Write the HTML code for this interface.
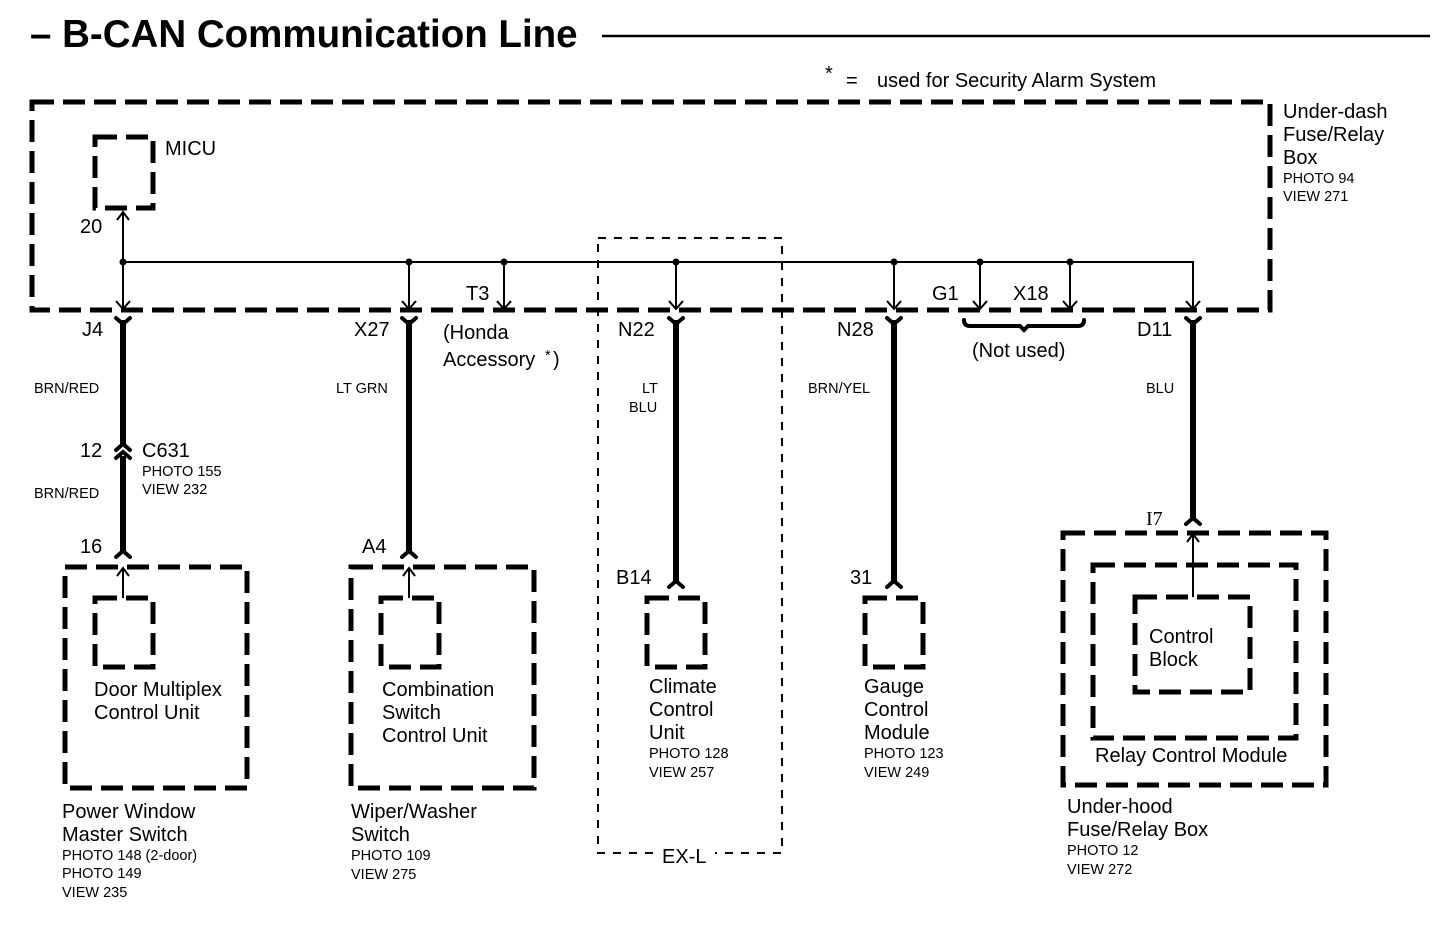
<!DOCTYPE html>
<html><head><meta charset="utf-8"><style>
body{margin:0;background:#fff}
svg{display:block}
text{font-family:"Liberation Sans",sans-serif;fill:#000}
.l{font-size:20px}
.s{font-size:14.5px}
</style></head><body>
<svg width="1440" height="934" viewBox="0 0 1440 934" xmlns="http://www.w3.org/2000/svg">
<text x="30" y="47" style="font-size:38.5px;font-weight:bold">– B-CAN Communication Line</text>
<line x1="602" y1="36" x2="1430" y2="36" stroke="#000" stroke-width="2.5"/>
<text x="825" y="80" class="l">*</text>
<text x="846" y="87" class="l">=</text>
<text x="877" y="87" class="l">used for Security Alarm System</text>

<g fill="none" stroke="#000" stroke-width="5" stroke-dasharray="22,9">
<rect x="32" y="102" width="1238" height="208"/>
<rect x="95" y="137" width="58" height="71"/>
<rect x="65" y="567" width="182" height="221"/>
<rect x="95" y="598" width="58" height="69"/>
<rect x="351" y="567" width="183" height="221"/>
<rect x="381" y="598" width="58" height="69"/>
<rect x="647" y="598" width="58" height="69"/>
<rect x="865" y="598" width="58" height="69"/>
<rect x="1063" y="533" width="263" height="252"/>
<rect x="1093" y="565" width="203" height="173"/>
<rect x="1135" y="597" width="115" height="95"/>
</g>
<rect x="598" y="238" width="184" height="615" fill="none" stroke="#000" stroke-width="2" stroke-dasharray="8,8"/>
<rect x="655" y="843" width="60" height="20" fill="#fff"/>

<g stroke="#000" stroke-width="2" fill="none">
<polyline points="123,262 1193,262 1193,308"/>
<line x1="123" y1="212" x2="123" y2="308"/>
<polyline points="117,220 123,212 129,220"/>
<line x1="409" y1="262" x2="409" y2="308"/><line x1="504" y1="262" x2="504" y2="308"/>
<line x1="676" y1="262" x2="676" y2="308"/><line x1="894" y1="262" x2="894" y2="308"/>
<line x1="980" y1="262" x2="980" y2="308"/><line x1="1070" y1="262" x2="1070" y2="308"/>
<g>
<polyline points="116,301 123,309 130,301"/><polyline points="402,301 409,309 416,301"/>
<polyline points="497,301 504,309 511,301"/><polyline points="669,301 676,309 683,301"/>
<polyline points="887,301 894,309 901,301"/><polyline points="973,301 980,309 987,301"/>
<polyline points="1063,301 1070,309 1077,301"/><polyline points="1186,301 1193,309 1200,301"/>
</g>
<line x1="123" y1="568" x2="123" y2="598"/><polyline points="117,576 123,568 129,576"/>
<line x1="409" y1="568" x2="409" y2="598"/><polyline points="403,576 409,568 415,576"/>
<line x1="1193" y1="534" x2="1193" y2="597"/><polyline points="1187,542 1193,534 1199,542"/>
</g>
<g fill="#000">
<circle cx="123" cy="262" r="3.5"/><circle cx="409" cy="262" r="3.5"/><circle cx="504" cy="262" r="3.5"/>
<circle cx="676" cy="262" r="3.5"/><circle cx="894" cy="262" r="3.5"/><circle cx="980" cy="262" r="3.5"/>
<circle cx="1070" cy="262" r="3.5"/>
</g>
<g stroke="#000" stroke-width="6" fill="none" stroke-linejoin="round">
<line x1="123" y1="320" x2="123" y2="444"/><line x1="123" y1="456" x2="123" y2="552"/>
<line x1="409" y1="320" x2="409" y2="552"/>
<line x1="676" y1="320" x2="676" y2="582"/>
<line x1="894" y1="320" x2="894" y2="582"/>
<line x1="1193" y1="320" x2="1193" y2="518"/>
</g>
<g stroke="#000" stroke-width="4" fill="none" stroke-linecap="round">
<polyline points="116,318 123,324 130,318"/><polyline points="402,318 409,324 416,318"/>
<polyline points="669,318 676,324 683,318"/><polyline points="887,318 894,324 901,318"/>
<polyline points="1186,318 1193,324 1200,318"/>
<polyline points="116,450 123,444 130,450"/><polyline points="116,458 123,452 130,458"/>
<polyline points="116,557 123,551 130,557"/><polyline points="402,557 409,551 416,557"/>
<polyline points="669,587 676,581 683,587"/><polyline points="887,587 894,581 901,587"/>
<polyline points="1186,524 1193,518 1200,524"/>
<path d="M964,320 Q964,326 970,326 L1020,326 L1024,330 L1028,326 L1078,326 Q1084,326 1084,320"/>
</g>

<text x="165" y="155" class="l">MICU</text>
<text x="1283" y="118" class="l">Under-dash</text>
<text x="1283" y="141" class="l">Fuse/Relay</text>
<text x="1283" y="164" class="l">Box</text>
<text x="1283" y="183" class="s">PHOTO 94</text>
<text x="1283" y="201" class="s">VIEW 271</text>
<text x="80" y="233" class="l">20</text>
<text x="82" y="336" class="l">J4</text>
<text x="354" y="336" class="l">X27</text>
<text x="466" y="300" class="l">T3</text>
<text x="443" y="339" class="l">(Honda</text>
<text x="443" y="366" class="l">Accessory</text><text x="545" y="360" class="s">*</text><text x="553" y="366" class="l">)</text>
<text x="618" y="336" class="l">N22</text>
<text x="837" y="336" class="l">N28</text>
<text x="932" y="300" class="l">G1</text>
<text x="1013" y="300" class="l">X18</text>
<text x="972" y="357" class="l">(Not used)</text>
<text x="1137" y="336" class="l">D11</text>
<text x="34" y="393" class="s">BRN/RED</text>
<text x="336" y="393" class="s">LT GRN</text>
<text x="642" y="393" class="s">LT</text>
<text x="629" y="412" class="s">BLU</text>
<text x="808" y="393" class="s">BRN/YEL</text>
<text x="1146" y="393" class="s">BLU</text>
<text x="80" y="457" class="l">12</text>
<text x="142" y="457" class="l">C631</text>
<text x="142" y="476" class="s">PHOTO 155</text>
<text x="142" y="494" class="s">VIEW 232</text>
<text x="34" y="498" class="s">BRN/RED</text>
<text x="80" y="553" class="l">16</text>
<text x="362" y="553" class="l">A4</text>
<text x="616" y="584" class="l">B14</text>
<text x="850" y="584" class="l">31</text>
<text x="1146" y="525" style="font-family:'Liberation Serif',serif;font-size:20px">I7</text>
<text x="94" y="696" class="l">Door Multiplex</text>
<text x="94" y="719" class="l">Control Unit</text>
<text x="382" y="696" class="l">Combination</text>
<text x="382" y="719" class="l">Switch</text>
<text x="382" y="742" class="l">Control Unit</text>
<text x="649" y="693" class="l">Climate</text>
<text x="649" y="716" class="l">Control</text>
<text x="649" y="739" class="l">Unit</text>
<text x="649" y="758" class="s">PHOTO 128</text>
<text x="649" y="777" class="s">VIEW 257</text>
<text x="864" y="693" class="l">Gauge</text>
<text x="864" y="716" class="l">Control</text>
<text x="864" y="739" class="l">Module</text>
<text x="864" y="758" class="s">PHOTO 123</text>
<text x="864" y="777" class="s">VIEW 249</text>
<text x="1149" y="643" class="l">Control</text>
<text x="1149" y="666" class="l">Block</text>
<text x="1095" y="762" class="l">Relay Control Module</text>
<text x="62" y="818" class="l">Power Window</text>
<text x="62" y="841" class="l">Master Switch</text>
<text x="62" y="860" class="s">PHOTO 148 (2-door)</text>
<text x="62" y="878" class="s">PHOTO 149</text>
<text x="62" y="897" class="s">VIEW 235</text>
<text x="351" y="818" class="l">Wiper/Washer</text>
<text x="351" y="841" class="l">Switch</text>
<text x="351" y="860" class="s">PHOTO 109</text>
<text x="351" y="879" class="s">VIEW 275</text>
<text x="662" y="863" class="l">EX-L</text>
<text x="1067" y="813" class="l">Under-hood</text>
<text x="1067" y="836" class="l">Fuse/Relay Box</text>
<text x="1067" y="855" class="s">PHOTO 12</text>
<text x="1067" y="874" class="s">VIEW 272</text>
</svg>
</body></html>
